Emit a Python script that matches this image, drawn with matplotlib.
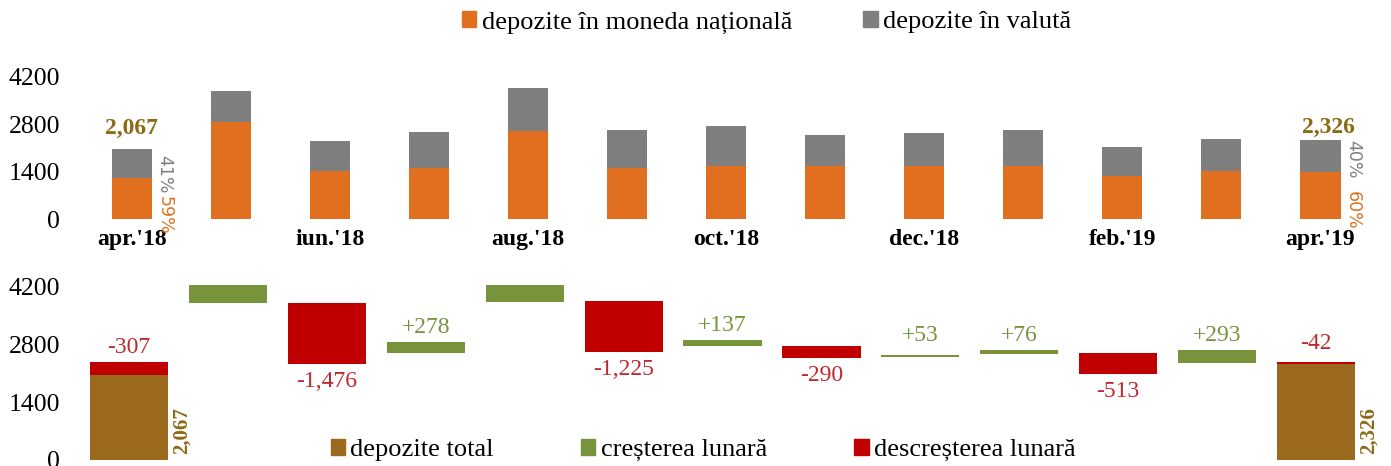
import matplotlib
matplotlib.use("Agg")
import matplotlib.pyplot as plt
from matplotlib.patches import Patch

# ---------------- data ----------------
months = ["apr.'18", "mai.'18", "iun.'18", "iul.'18", "aug.'18", "sep.'18", "oct.'18",
          "nov.'18", "dec.'18", "ian.'19", "feb.'19", "mar.'19", "apr.'19"]
tick_months = ["apr.'18", "", "iun.'18", "", "aug.'18", "", "oct.'18",
               "", "dec.'18", "", "feb.'19", "", "apr.'19"]
dep_national = [1220, 2860, 1420, 1510, 2590, 1510, 1570, 1570, 1570, 1570, 1260, 1420, 1396]
dep_valuta = [847, 920, 900, 1060, 1270, 1110, 1170, 920, 970, 1050, 860, 940, 930]
total_labels = {0: "2,067", 12: "2,326"}
pct_labels = {0: ("41%", "59%"), 12: ("40%", "60%")}

# waterfall (as drawn)
wf_low = [2067, 3800, 2324, 2580, 3820, 2615, 2765, 2470, 2500, 2575, 2070, 2360, 2326]
wf_size = [307, 440, 1476, 278, 420, 1225, 137, 290, 53, 76, 513, 293, 42]
wf_kind = ["dec", "inc", "dec", "inc", "inc", "dec", "inc", "dec", "inc", "inc", "dec", "inc", "dec"]
wf_labels = ["-307", "", "-1,476", "+278", "", "-1,225", "+137", "-290", "+53", "+76", "-513", "+293", "-42"]
wf_label_pos = ["above", "", "below", "above", "", "below", "above", "below", "above", "above", "below", "above", "above"]
totals = {0: 2067, 12: 2326}

yticks = [0, 1400, 2800, 4200]

# ---------------- style ----------------
C_ORANGE = "#E07020"
C_GRAY = "#7F7F7F"
C_GREEN = "#77933C"
C_RED = "#C00000"
C_BROWN = "#9C6A1E"
C_BROWN_TXT = "#8C6A14"
SERIF = "Liberation Serif"

plt.rcParams["font.family"] = [SERIF, "DejaVu Serif"]

fig = plt.figure(figsize=(13.91, 4.66), dpi=100)

# ---------- top chart ----------
ax1 = fig.add_axes([0.0592, 0.530, 0.9255, 0.305])
x = list(range(len(months)))
ax1.bar(x, dep_national, width=0.41, color=C_ORANGE, label="depozite în moneda națională")
ax1.bar(x, dep_valuta, width=0.41, bottom=dep_national, color=C_GRAY, label="depozite în valută")
ax1.set_xlim(-0.5, len(months) - 0.5)
ax1.set_ylim(0, 4200)
ax1.set_yticks(yticks)
ax1.set_yticklabels([str(v) for v in yticks], fontsize=18.5)
ax1.set_xticks(x)
ax1.set_xticklabels(tick_months, fontsize=17, fontweight="bold")
ax1.tick_params(length=0)
ax1.tick_params(axis="x", pad=7)
ax1.tick_params(axis="y", pad=16)
for s in ax1.spines.values():
    s.set_visible(False)

for i, txt in total_labels.items():
    tot = dep_national[i] + dep_valuta[i]
    dx = 0 if i == 0 else 0.08
    off = 7 if i == 0 else 2
    ax1.annotate(txt, (i + dx, tot), xytext=(0, off), textcoords="offset points",
                 ha="center", va="bottom", fontsize=17, fontweight="bold", color=C_BROWN_TXT)
for i, (g, o) in pct_labels.items():
    tot = dep_national[i] + dep_valuta[i]
    ax1.annotate(g, (i + 0.21, tot), xytext=(2, -4 if i == 0 else 0), textcoords="offset points",
                 ha="left", va="top", rotation=270, fontsize=12.5, color=C_GRAY,
                 family="DejaVu Sans")
    ax1.annotate(o, (i + 0.21, dep_national[i]), xytext=(2, -13 if i == 0 else -14),
                 textcoords="offset points",
                 ha="left", va="top", rotation=270, fontsize=12.5, color=C_ORANGE,
                 family="DejaVu Sans")

fig.legend(handles=[Patch(color=C_ORANGE, label="depozite în moneda națională"),
                    Patch(color=C_GRAY, label="depozite în valută")],
           loc="center", bbox_to_anchor=(0.551, 0.952), ncol=2, frameon=False,
           fontsize=19, handlelength=0.55, handleheight=0.55, handletextpad=0.2,
           columnspacing=2.7)

# ---------- bottom chart ----------
ax2 = fig.add_axes([0.0572, 0.0129, 0.9245, 0.390])
for i in range(len(months)):
    col = C_GREEN if wf_kind[i] == "inc" else C_RED
    ax2.bar(i, wf_size[i], bottom=wf_low[i], width=0.79, color=col)
for i, v in totals.items():
    ax2.bar(i, v, width=0.79, color=C_BROWN)
    ax2.annotate(total_labels[i], (i + 0.43, 0), xytext=(0, 4), textcoords="offset points",
                 ha="left", va="bottom", rotation=90, fontsize=15, fontweight="bold",
                 color=C_BROWN_TXT)
for i, lab in enumerate(wf_labels):
    if not lab:
        continue
    col = C_GREEN if wf_kind[i] == "inc" else "#C0282D"
    if wf_label_pos[i] == "above":
        extra = 6 if wf_size[i] < 60 else 3
        ax2.annotate(lab, (i, wf_low[i] + wf_size[i]), xytext=(0, extra), textcoords="offset points",
                     ha="center", va="bottom", fontsize=17, color=col)
    else:
        ax2.annotate(lab, (i, wf_low[i]), xytext=(0, -5), textcoords="offset points",
                     ha="center", va="top", fontsize=17, color=col)

ax2.set_xlim(-0.5, len(months) - 0.5)
ax2.set_ylim(0, 4400)
ax2.set_yticks(yticks)
ax2.set_yticklabels([str(v) for v in yticks], fontsize=18.5)
ax2.set_xticks([])
ax2.tick_params(length=0)
ax2.tick_params(axis="y", pad=14)
for s in ax2.spines.values():
    s.set_visible(False)

ax2.legend(handles=[Patch(color=C_BROWN, label="depozite total"),
                    Patch(color=C_GREEN, label="creșterea lunară"),
                    Patch(color=C_RED, label="descreșterea lunară")],
           loc="center", bbox_to_anchor=(703 / 1391, 0.034), bbox_transform=fig.transFigure,
           ncol=3, frameon=False, fontsize=19, handlelength=0.55, handleheight=0.55,
           handletextpad=0.2, columnspacing=3.3)

fig.savefig("out.png", dpi=100)
